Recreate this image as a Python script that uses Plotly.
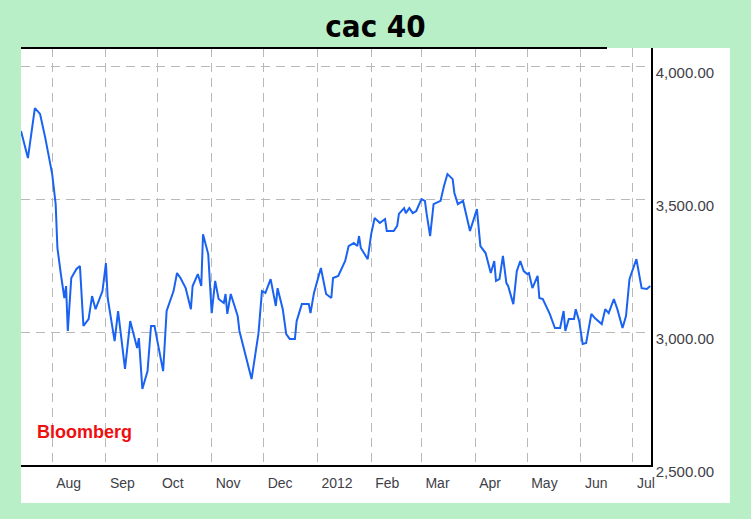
import plotly.graph_objects as go

# ---- data (CAC 40) ----
dates = [
    "2011-07-14", "2011-07-18", "2011-07-22", "2011-07-25", "2011-07-28",
    "2011-08-01", "2011-08-03", "2011-08-04", "2011-08-06", "2011-08-08",
    "2011-08-09", "2011-08-10", "2011-08-12", "2011-08-15", "2011-08-17",
    "2011-08-19", "2011-08-22", "2011-08-24", "2011-08-26", "2011-08-30",
    "2011-09-01", "2011-09-02", "2011-09-06", "2011-09-08", "2011-09-12",
    "2011-09-15", "2011-09-19", "2011-09-20", "2011-09-22", "2011-09-25",
    "2011-09-27", "2011-09-29", "2011-10-04", "2011-10-06", "2011-10-10",
    "2011-10-12", "2011-10-14", "2011-10-17", "2011-10-20", "2011-10-21",
    "2011-10-24", "2011-10-26", "2011-10-27", "2011-10-30", "2011-11-01",
    "2011-11-03", "2011-11-05", "2011-11-08", "2011-11-09", "2011-11-10",
    "2011-11-12", "2011-11-16", "2011-11-17", "2011-11-24", "2011-11-28",
    "2011-11-30", "2011-12-02", "2011-12-05", "2011-12-08", "2011-12-09",
    "2011-12-12", "2011-12-14", "2011-12-16", "2011-12-19", "2011-12-20",
    "2011-12-23", "2011-12-27", "2011-12-28", "2011-12-30", "2012-01-03",
    "2012-01-06", "2012-01-09", "2012-01-10", "2012-01-13", "2012-01-17",
    "2012-01-19", "2012-01-22", "2012-01-24", "2012-01-25", "2012-01-26",
    "2012-01-30", "2012-02-01", "2012-02-03", "2012-02-06", "2012-02-09",
    "2012-02-10", "2012-02-14", "2012-02-16", "2012-02-17", "2012-02-20",
    "2012-02-21", "2012-02-23", "2012-02-25", "2012-02-27", "2012-03-01",
    "2012-03-03", "2012-03-04", "2012-03-06", "2012-03-08", "2012-03-12",
    "2012-03-14", "2012-03-16", "2012-03-19", "2012-03-20", "2012-03-22",
    "2012-03-25", "2012-03-29", "2012-04-02", "2012-04-04", "2012-04-07",
    "2012-04-10", "2012-04-12", "2012-04-13", "2012-04-15", "2012-04-17",
    "2012-04-19", "2012-04-20", "2012-04-23", "2012-04-25", "2012-04-27",
    "2012-04-29", "2012-05-01", "2012-05-02", "2012-05-04", "2012-05-07",
    "2012-05-08", "2012-05-10", "2012-05-14", "2012-05-17", "2012-05-20",
    "2012-05-22", "2012-05-23", "2012-05-25", "2012-05-28", "2012-05-29",
    "2012-05-31", "2012-06-02", "2012-06-04", "2012-06-07", "2012-06-09",
    "2012-06-13", "2012-06-15", "2012-06-17", "2012-06-20", "2012-06-22",
    "2012-06-25", "2012-06-27", "2012-06-29", "2012-06-30", "2012-07-03",
    "2012-07-06", "2012-07-09", "2012-07-11",
]
values = [
    3756, 3654, 3842, 3820, 3730,
    3594, 3481, 3316, 3218, 3128,
    3173, 3004, 3203, 3237, 3248,
    3023, 3049, 3135, 3086, 3154,
    3259, 3128, 2966, 3079, 2861,
    3041, 2940, 2977, 2786, 2853,
    3023, 3023, 2853, 3079, 3154,
    3222, 3203, 3165, 3086, 3173,
    3218, 3173, 3368, 3293, 3071,
    3192, 3124, 3109, 3143, 3068,
    3143, 3060, 3004, 2823, 2996,
    3154, 3147, 3199, 3098, 3165,
    3086, 2992, 2974, 2974, 3041,
    3105, 3105, 3071, 3147, 3241,
    3143, 3128, 3203, 3211, 3267,
    3323, 3335, 3323, 3361, 3316,
    3274, 3368, 3429, 3410, 3425,
    3380, 3380, 3399, 3444, 3466,
    3447, 3466, 3447, 3455, 3500,
    3493, 3444, 3361, 3481, 3493,
    3549, 3594, 3575, 3523, 3481,
    3493, 3380, 3462, 3323, 3297,
    3222, 3267, 3192, 3199, 3286,
    3184, 3173, 3105, 3229, 3267,
    3229, 3218, 3222, 3165, 3211,
    3128, 3124, 3068, 3015, 3015,
    3079, 3004, 3049, 3049, 3086,
    3041, 2955, 2959, 3068, 3053,
    3030, 3086, 3071, 3124, 3086,
    3015, 3060, 3199, 3218, 3274,
    3165, 3162, 3173,
]

month_ticks = ["2011-08-01", "2011-09-01", "2011-10-01", "2011-11-01", "2011-12-01",
               "2012-01-01", "2012-02-01", "2012-03-01", "2012-04-01", "2012-05-01",
               "2012-06-01", "2012-07-01"]
month_labels = ["Aug", "Sep", "Oct", "Nov", "Dec", "2012", "Feb", "Mar", "Apr",
                "May", "Jun", "Jul"]
y_ticks = [2500, 3000, 3500, 4000]
y_labels = ["2,500.00", "3,000.00", "3,500.00", "4,000.00"]

GREEN = "#b9efc6"
GRID = "#b9b9b9"

fig = go.Figure()
fig.add_trace(go.Scatter(
    x=dates, y=values, mode="lines",
    line=dict(color="#1a63f2", width=2),
    hoverinfo="skip", showlegend=False,
))

fig.update_layout(
    width=751, height=519,
    paper_bgcolor=GREEN, plot_bgcolor="white",
    margin=dict(l=21, r=100, t=48, b=54),
    title=dict(text="<b>cac 40</b>", x=0.5, xref="container", xanchor="center",
               y=1 - 26 / 519, yref="container", yanchor="middle",
               font=dict(family="DejaVu Sans Condensed, DejaVu Sans", size=31, color="black")),
    showlegend=False,
    xaxis=dict(
        type="date", range=["2011-07-14", "2012-07-11 10:00"],
        tickvals=month_ticks, ticktext=month_labels,
        ticklabelposition="outside right", ticklabelshift=3, ticklabelstandoff=4,
        ticks="", showgrid=True, gridcolor=GRID, griddash="9px,6px", gridwidth=1,
        showline=True, linecolor="black", linewidth=2,
        tickfont=dict(family="Liberation Sans", size=14, color="#404048"),
        zeroline=False, fixedrange=True,
    ),
    yaxis=dict(
        side="right", range=[2500, 4068],
        tickvals=y_ticks, ticktext=y_labels, ticks="",
        ticklabelshift=7,
        showgrid=True, gridcolor=GRID, griddash="9px,6px", gridwidth=1,
        showline=True, linecolor="black", linewidth=1.5,
        tickfont=dict(family="Liberation Sans", size=15, color="#404048"),
        zeroline=False, fixedrange=True,
    ),
    shapes=[
        # white panel behind the chart
        dict(type="rect", xref="paper", yref="paper", x0=0, x1=(730 - 21) / 630,
             y0=-(503 - 465) / 417, y1=1, fillcolor="white", line=dict(width=0),
             layer="below"),
        # top black rule
        dict(type="line", xref="paper", yref="paper", x0=0, x1=(607 - 21) / 630,
             y0=1, y1=1, line=dict(color="black", width=2)),
    ],
    annotations=[
        dict(text="<b>Bloomberg</b>", xref="paper", yref="paper",
             x=(35 - 21) / 630, y=(465 - 432) / 417, xanchor="left", yanchor="middle",
             showarrow=False, font=dict(family="Liberation Sans", size=18, color="#ee1010")),
    ],
)

fig.write_html("out.html", config={"displayModeBar": False},
               post_script="document.body.style.margin='0';")
